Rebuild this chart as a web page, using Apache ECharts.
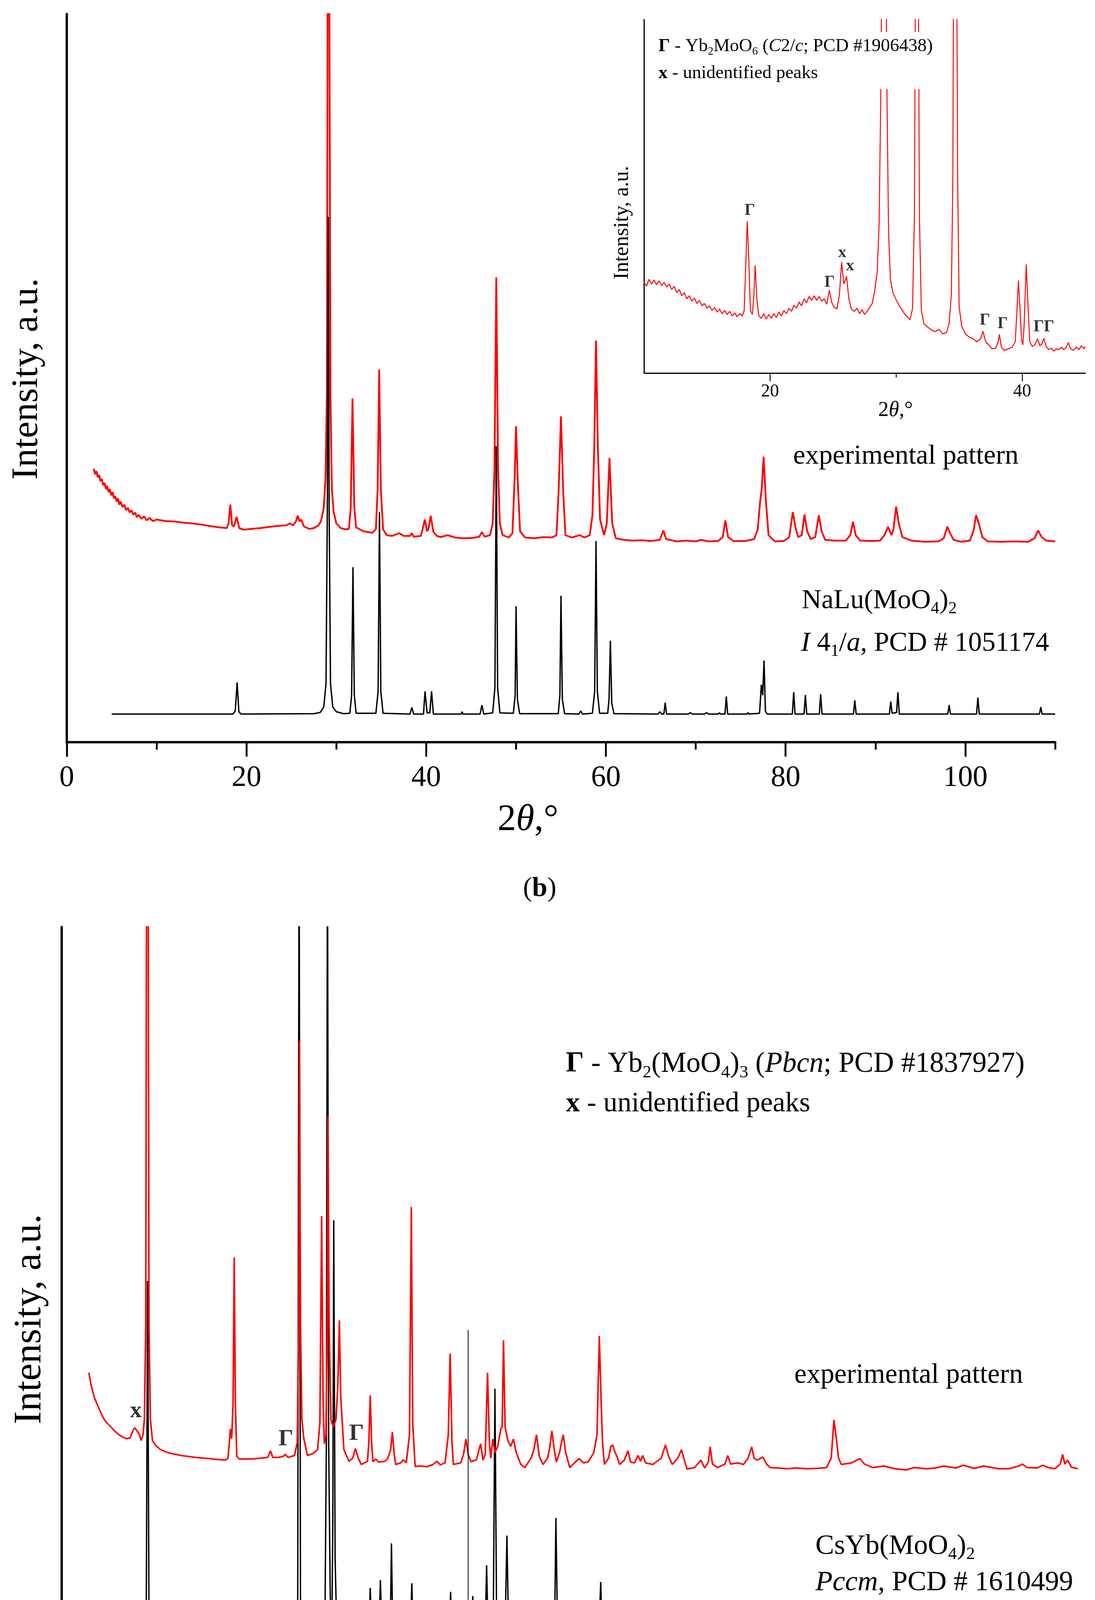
<!DOCTYPE html>
<html>
<head>
<meta charset="utf-8">
<script src="https://cdn.jsdelivr.net/npm/echarts@6.0.0/dist/echarts.min.js"></script>
<style>
  html, body { margin: 0; padding: 0; background: #fff; }
  #chart { width: 2804px; height: 4680px; }
</style>
</head>
<body>
<div id="chart"></div>
<script>
// ---- data: [2theta, intensity a.u.] ----
// panel (b): experimental pattern
var expB = [[3.0,700],[3.15,686],[3.3,694],[3.45,678],[3.6,684],[3.75,668],[3.9,674],[4.05,658],[4.2,664],[4.35,648],[4.5,656],[4.65,640],[4.8,648],[4.95,632],[5.1,640],[5.25,624],[5.4,630],[5.55,616],[5.7,624],[5.85,608],[6.0,616],[6.2,602],[6.4,608],[6.6,594],[6.8,600],[7.0,588],[7.2,594],[7.4,582],[7.6,588],[7.8,576],[8.0,582],[8.3,572],[8.6,578],[8.9,568],[9.2,574],[9.6,566],[10,570],[11,566],[12,565],[13,562],[14,560],[15,557],[16,553],[17,550],[17.8,548],[18.0,560],[18.2,608],[18.4,556],[18.6,552],[18.9,577],[19.2,548],[19.7,544],[20.5,546],[21.5,548],[22.5,551],[23.6,554],[24.4,555],[24.8,560],[25.2,555],[25.5,565],[25.7,580],[25.9,565],[26.1,570],[26.4,552],[27.0,546],[27.5,548],[28.0,555],[28.3,566],[28.6,600],[28.8,680],[28.95,900],[29.05,2100],[29.2,2100],[29.35,880],[29.5,650],[29.7,590],[30.0,560],[30.5,548],[31.0,545],[31.4,546],[31.6,600],[31.8,880],[32.0,600],[32.2,550],[33.0,540],[34.0,536],[34.4,545],[34.6,650],[34.77,954],[34.95,650],[35.2,545],[35.6,530],[36.2,528],[37.0,535],[37.5,528],[38.2,528],[38.4,535],[38.6,526],[39.4,528],[39.6,545],[39.85,570],[40.1,540],[40.25,545],[40.5,580],[40.8,538],[41.2,528],[41.6,525],[42.4,530],[43.2,524],[44.2,522],[45.2,523],[45.9,526],[46.2,538],[46.5,526],[47.1,530],[47.4,560],[47.6,700],[47.8,1190],[48.0,700],[48.2,560],[48.5,530],[49.2,524],[49.6,535],[49.85,680],[50.0,809],[50.2,660],[50.45,540],[51,524],[52,522],[53,525],[54,524],[54.5,530],[54.75,650],[55.0,834],[55.25,640],[55.5,530],[56.2,524],[57.1,530],[57.6,524],[58.2,530],[58.5,580],[58.7,750],[58.9,1028],[59.1,760],[59.35,570],[59.8,530],[60.1,560],[60.4,728],[60.7,560],[61.1,522],[62,518],[63,516],[64,517],[65,515],[66,518],[66.4,542],[66.7,520],[67.9,514],[69,516],[70,514],[70.6,518],[71.4,514],[72.5,515],[73.0,525],[73.3,568],[73.6,525],[74.2,515],[75.5,515],[76.5,520],[76.9,545],[77.15,613],[77.35,650],[77.55,731],[77.8,620],[78.1,530],[78.8,514],[79.8,515],[80.4,525],[80.8,589],[81.1,550],[81.4,525],[81.8,530],[82.1,583],[82.4,540],[82.8,520],[83.3,525],[83.7,581],[84.0,540],[84.4,518],[85.5,516],[86.7,516],[87.2,530],[87.5,564],[87.8,530],[88.3,516],[89.5,515],[90.5,516],[91.0,530],[91.4,551],[91.8,530],[92.0,545],[92.3,603],[92.6,560],[93.0,525],[94,516],[95.5,513],[97,514],[97.6,522],[98.0,552],[98.3,535],[98.7,518],[99.5,513],[100.5,516],[100.9,540],[101.2,581],[101.5,560],[101.9,525],[102.5,514],[104,513],[105.5,514],[107,513],[107.7,522],[108.1,542],[108.5,525],[109,516],[110,514]];

// panel (b): NaLu(MoO4)2 reference pattern
var refB = [[5.0,72],[18.5,72],[18.75,80],[18.96,153],[19.15,78],[19.4,72],[27.5,73],[28.2,76],[28.6,90],[28.85,150],[29.0,600],[29.1,1345],[29.2,600],[29.35,150],[29.6,90],[30.0,78],[30.8,73],[31.5,74],[31.7,120],[31.85,448],[32.0,120],[32.2,74],[34.4,74],[34.65,130],[34.8,589],[34.95,130],[35.2,74],[38.2,72],[38.4,89],[38.6,72],[39.7,72],[39.87,130],[40.1,75],[40.4,75],[40.6,130],[40.8,72],[43.9,72],[44.0,78],[44.1,72],[46.0,72],[46.2,95],[46.4,72],[47.4,75],[47.65,140],[47.8,758],[47.95,140],[48.2,75],[49.7,74],[49.9,120],[50.0,348],[50.15,110],[50.4,73],[54.7,73],[54.88,120],[55.0,375],[55.15,110],[55.4,73],[57.0,72],[57.2,80],[57.4,72],[58.5,74],[58.75,130],[58.9,515],[59.05,130],[59.3,74],[60.2,74],[60.35,110],[60.5,260],[60.65,100],[60.9,73],[65.8,72],[66.0,78],[66.2,72],[66.45,72],[66.6,101],[66.75,72],[69.2,72],[69.4,76],[69.6,72],[71.0,72],[71.2,76],[71.4,72],[72.5,72],[72.6,75],[72.8,72],[73.25,72],[73.4,117],[73.55,72],[75.7,72],[75.8,76],[75.9,72],[77.1,74],[77.3,147],[77.45,120],[77.6,209],[77.75,80],[77.95,72],[80.75,72],[80.9,128],[81.05,72],[82.05,72],[82.2,121],[82.35,72],[83.75,72],[83.9,123],[84.05,72],[87.55,72],[87.7,107],[87.85,72],[91.55,72],[91.7,104],[91.85,74],[92.35,76],[92.5,128],[92.65,72],[98.05,72],[98.2,95],[98.35,72],[101.25,72],[101.4,114],[101.55,72],[108.25,72],[108.4,90],[108.55,72],[110,72]];

// panel (b) inset: experimental pattern, 10-45 deg
var expInset = [[10.0,234],[10.2,222],[10.4,240],[10.6,228],[10.8,238],[11.0,226],[11.2,236],[11.4,224],[11.6,232],[11.8,220],[12.0,228],[12.2,214],[12.4,222],[12.6,206],[12.8,214],[13.0,198],[13.2,206],[13.4,190],[13.6,198],[13.8,184],[14.0,192],[14.2,178],[14.4,186],[14.6,172],[14.8,178],[15.0,166],[15.2,172],[15.4,160],[15.6,168],[15.8,156],[16.0,164],[16.2,152],[16.4,160],[16.6,150],[16.8,158],[17.0,146],[17.2,154],[17.4,144],[17.6,152],[17.8,146],[17.95,160],[18.1,300],[18.19,389],[18.3,300],[18.45,160],[18.6,150],[18.72,200],[18.82,276],[18.95,190],[19.1,148],[19.3,140],[19.5,152],[19.7,138],[19.9,150],[20.1,140],[20.3,152],[20.5,142],[20.7,156],[20.9,146],[21.1,160],[21.3,152],[21.5,166],[21.7,158],[21.9,174],[22.1,166],[22.3,182],[22.5,172],[22.7,190],[22.9,180],[23.1,196],[23.3,186],[23.5,198],[23.7,186],[23.9,196],[24.1,184],[24.3,190],[24.5,176],[24.7,212],[24.9,180],[25.1,168],[25.3,164],[25.5,200],[25.68,284],[25.85,228],[26.0,240],[26.07,248],[26.25,190],[26.45,164],[26.7,158],[26.9,166],[27.1,152],[27.3,162],[27.5,150],[27.7,158],[27.9,168],[28.1,178],[28.3,210],[28.5,260],[28.65,380],[28.78,700],[28.88,1100],[29.18,1100],[29.28,700],[29.4,360],[29.55,240],[29.75,205],[30.0,188],[30.25,172],[30.5,160],[30.7,150],[30.9,144],[31.1,136],[31.3,165],[31.45,400],[31.55,1100],[31.75,1100],[31.85,400],[32.0,160],[32.2,126],[32.5,118],[32.8,110],[33.1,106],[33.4,112],[33.7,100],[34.0,104],[34.2,126],[34.38,200],[34.5,500],[34.56,1100],[34.8,1100],[34.88,500],[35.0,170],[35.2,120],[35.5,100],[35.8,92],[36.1,88],[36.4,80],[36.7,88],[36.89,107],[37.1,80],[37.35,72],[37.6,62],[37.9,64],[38.1,80],[38.19,99],[38.35,66],[38.6,58],[38.9,62],[39.2,66],[39.45,80],[39.6,170],[39.7,237],[39.82,170],[39.95,85],[40.05,72],[40.15,120],[40.32,278],[40.45,180],[40.6,80],[40.8,68],[41.0,72],[41.21,88],[41.4,70],[41.55,74],[41.72,89],[41.9,68],[42.1,60],[42.3,64],[42.5,56],[42.7,62],[42.9,60],[43.1,66],[43.3,60],[43.5,66],[43.66,78],[43.85,62],[44.05,58],[44.3,66],[44.5,60],[44.7,70],[44.9,62],[45.0,68]];

// panel (c): experimental pattern
var expC = [[2.94,779],[3.2,745],[3.5,718],[3.8,700],[4.1,684],[4.4,668],[4.7,656],[5.0,648],[5.4,638],[5.8,628],[6.2,620],[6.6,614],[7.0,610],[7.4,612],[7.7,630],[7.9,638],[8.15,630],[8.4,622],[8.6,605],[8.8,620],[8.95,660],[9.1,900],[9.2,2200],[9.35,2200],[9.45,900],[9.6,660],[9.83,605],[10.2,592],[10.7,582],[11.5,574],[12.9,567],[14.5,562],[16.0,559],[17.2,556],[17.7,555],[18.0,560],[18.15,600],[18.26,635],[18.4,610],[18.55,700],[18.68,1074],[18.8,700],[18.95,565],[19.2,558],[20.5,558],[21.5,560],[22.3,562],[22.6,579],[22.85,562],[23.5,562],[24.0,565],[24.2,570],[24.5,562],[25.2,567],[25.5,600],[25.65,900],[25.75,1629],[25.85,900],[26.0,660],[26.2,612],[26.6,567],[27.2,572],[27.7,582],[27.95,650],[28.14,1180],[28.3,700],[28.43,597],[28.6,620],[28.75,900],[28.83,1436],[28.95,900],[29.15,658],[29.4,640],[29.7,660],[29.9,750],[30.06,913],[30.2,720],[30.55,582],[31.1,552],[31.5,560],[31.8,585],[32.1,560],[32.43,544],[33.1,552],[33.25,600],[33.4,721],[33.55,600],[33.7,551],[34.0,558],[34.3,550],[35.0,552],[35.3,560],[35.6,580],[35.8,627],[36.0,570],[36.15,544],[36.7,548],[37.0,556],[37.3,548],[37.65,620],[37.85,1203],[38.0,650],[38.26,539],[38.9,540],[39.5,538],[40.2,544],[40.6,552],[41.0,543],[41.5,548],[41.85,620],[42.05,828],[42.25,600],[42.4,544],[43.2,548],[43.5,570],[43.76,609],[44.0,570],[44.3,551],[44.9,556],[45.1,575],[45.35,597],[45.6,555],[45.85,570],[46.1,779],[46.3,600],[46.45,560],[46.67,609],[46.9,574],[47.2,590],[47.54,635],[47.68,640],[47.83,862],[48.0,640],[48.3,605],[48.6,590],[48.9,609],[49.2,575],[49.7,544],[50.14,536],[50.8,560],[51.1,580],[51.4,620],[51.7,565],[52.1,544],[52.6,560],[52.85,590],[53.06,630],[53.3,585],[53.56,550],[53.9,575],[54.1,600],[54.3,620],[54.55,575],[55.0,536],[55.6,550],[56.0,559],[56.5,548],[57.0,551],[57.6,574],[57.95,620],[58.2,873],[58.4,703],[58.55,600],[58.75,544],[59.2,560],[59.45,590],[59.65,594],[59.9,575],[60.1,565],[60.4,544],[60.9,555],[61.3,579],[61.6,550],[62.0,548],[62.4,567],[62.65,552],[62.9,567],[63.2,548],[64.0,544],[64.9,560],[65.36,594],[65.7,565],[66.1,544],[66.7,560],[67.1,582],[67.4,555],[67.7,532],[68.5,536],[69.2,555],[69.6,535],[70.0,550],[70.2,589],[70.45,545],[71.0,536],[71.8,545],[72.1,567],[72.4,545],[73.2,548],[73.8,544],[74.3,560],[74.7,589],[74.95,560],[75.3,555],[75.9,563],[76.3,545],[76.7,536],[77.5,535],[78.5,533],[79.5,535],[80.7,533],[81.8,534],[82.8,536],[83.3,560],[83.6,658],[83.85,612],[84.1,560],[84.4,544],[85.5,548],[86.4,559],[86.9,545],[87.8,536],[89.0,540],[90.2,533],[91.4,530],[92.3,536],[93.6,533],[94.6,535],[95.5,540],[96.8,535],[97.6,542],[98.8,534],[99.8,540],[100.3,538],[101.4,533],[102.5,533],[103.6,540],[104.0,545],[104.5,536],[105.6,535],[106.2,542],[106.8,536],[107.5,533],[108.1,545],[108.35,570],[108.6,545],[108.9,555],[109.3,537],[110.0,533]];

// panel (c): CsYb(MoO4)2 reference pattern
var refC = [[4.95,77],[9.0,77],[9.15,150],[9.3,1014],[9.45,150],[9.7,78],[17.4,77],[17.6,142],[17.8,77],[18.45,77],[18.65,195],[18.85,77],[22.35,77],[22.5,111],[22.65,77],[22.85,77],[22.95,88],[23.1,77],[25.3,80],[25.55,200],[25.7,2200],[25.85,200],[26.1,80],[27.9,78],[28.1,175],[28.3,110],[28.5,150],[28.65,600],[28.77,2200],[28.9,600],[29.1,150],[29.25,130],[29.35,400],[29.45,1169],[29.6,300],[29.8,100],[30.1,80],[30.3,175],[30.5,78],[33.2,77],[33.4,228],[33.6,77],[34.3,77],[34.5,248],[34.7,77],[35.1,77],[35.25,100],[35.4,80],[35.55,100],[35.7,342],[35.85,90],[36.1,77],[36.3,139],[36.5,77],[36.8,77],[36.95,88],[37.1,77],[37.7,77],[37.9,240],[38.1,77],[39.8,77],[40.0,104],[40.15,77],[40.4,80],[40.6,152],[40.8,77],[41.9,77],[42.1,218],[42.3,77],[42.6,77],[42.75,104],[42.9,77],[43.6,77],[43.8,100],[44.0,77],[44.3,77],[44.5,207],[44.7,77],[45.8,77],[46.0,286],[46.2,77],[46.7,80],[46.9,738],[47.1,90],[47.4,77],[47.55,130],[47.7,100],[47.85,139],[48.0,120],[48.2,362],[48.4,80],[49.6,77],[49.8,100],[49.95,77],[50.2,77],[50.4,111],[50.6,77],[51.2,77],[51.4,105],[51.55,80],[51.75,80],[51.9,177],[52.1,77],[52.8,77],[53.0,185],[53.2,90],[53.35,100],[53.5,407],[53.7,80],[54.6,77],[54.75,90],[54.9,77],[56.6,77],[56.8,149],[57.0,77],[58.05,77],[58.15,110],[58.35,243],[58.55,78],[59.4,78],[59.56,192],[59.7,120],[59.9,180],[60.1,78],[60.9,78],[61.1,139],[61.3,90],[61.4,80],[62.4,77],[62.6,95],[62.8,77],[63.1,77],[63.3,108],[63.5,77],[63.9,77],[64.1,123],[64.3,77],[66.0,77],[66.2,152],[66.4,78],[66.8,77],[66.95,88],[67.1,77],[67.4,77],[67.5,85],[67.7,77],[68.8,77],[69.0,88],[69.2,77],[70.0,77],[70.2,104],[70.4,77],[71.4,77],[71.55,85],[71.7,77],[72.2,77],[72.35,88],[72.5,77],[72.65,77],[72.8,130],[72.95,90],[73.1,130],[73.3,77],[74.0,77],[74.1,85],[74.2,77],[74.45,77],[74.6,119],[74.75,85],[74.9,115],[75.1,77],[75.5,77],[75.7,100],[75.9,77],[77.1,77],[77.3,139],[77.5,77],[79.6,77],[79.8,100],[79.95,85],[80.1,100],[80.3,77],[81.0,77],[81.15,88],[81.3,77],[82.8,77],[83.0,111],[83.2,77],[83.45,77],[83.6,95],[83.75,77],[84.6,77],[84.75,88],[84.9,77],[85.3,77],[85.45,92],[85.6,77],[85.75,77],[85.9,104],[86.05,77],[86.65,77],[86.8,100],[86.95,77],[87.9,77],[88.05,95],[88.2,85],[88.35,95],[88.5,77],[89.5,77],[89.65,85],[89.8,77],[91.7,77],[91.85,85],[92.0,77],[93.05,77],[93.2,94],[93.35,77],[94.6,77],[94.75,85],[94.9,77],[96.0,77],[96.2,100],[96.4,80],[96.6,77],[101.1,77],[101.3,95],[101.5,77],[101.9,77],[102.1,88],[102.3,77],[102.9,77],[103.1,88],[103.3,77],[104.4,77],[104.6,88],[104.8,77],[105.3,77],[105.5,90],[105.7,77],[107.0,77],[107.2,85],[107.4,77],[108.2,77],[108.4,95],[108.6,77],[110,77]];

// thin vertical line in panel (c)
var markC = [[44.0,48],[44.0,888]];

// phase markers: [2theta, intensity, label]
var markersInset = [[18.4,416,'Γ'],[24.72,232,'Γ'],[25.73,308,'x'],[26.35,274,'x'],[37.04,135,'Γ'],[38.45,126,'Γ'],[41.72,118,'ΓΓ']];
var markersC = [[8.03,681,'x'],[24.27,609,'Γ'],[31.92,623,'Γ']];

// tick values
var mainMajor = [0, 20, 40, 60, 80, 100];
var mainMinor = [10, 30, 50, 70, 90, 110];
var insetMajor = [20, 40];
var insetMinor = [30];

var FONT = 'Liberation Serif';
var RED = '#ff0000';

var chart = echarts.init(document.getElementById('chart'), null, { renderer: 'canvas' });

function majorAxis(grid, min, max, interval, ticks, fs, margin, tickLen, lineW) {
  return {
    type: 'value', gridIndex: grid, min: min, max: max, interval: interval, position: 'bottom',
    axisLine: { show: true, onZero: false, lineStyle: { color: '#000', width: lineW } },
    axisTick: { show: true, customValues: ticks, length: tickLen, lineStyle: { color: '#000', width: lineW * 0.8 } },
    axisLabel: { show: true, customValues: ticks, margin: margin, fontFamily: FONT, fontSize: fs, color: '#000' },
    splitLine: { show: false }
  };
}
function minorAxis(grid, min, max, interval, ticks, tickLen, lineW) {
  return {
    type: 'value', gridIndex: grid, min: min, max: max, interval: interval, position: 'bottom',
    axisLine: { show: false, onZero: false },
    axisTick: { show: true, customValues: ticks, length: tickLen, lineStyle: { color: '#000', width: lineW * 0.8 } },
    axisLabel: { show: false },
    splitLine: { show: false }
  };
}
function yAxisFor(grid, max, lineW) {
  return {
    type: 'value', gridIndex: grid, min: 0, max: max,
    axisLine: { show: true, onZero: false, lineStyle: { color: '#000', width: lineW } },
    axisTick: { show: false }, axisLabel: { show: false }, splitLine: { show: false }
  };
}
function lineSeries(x, y, data, color, width, z) {
  return {
    type: 'line', xAxisIndex: x, yAxisIndex: y, data: data, showSymbol: false, symbol: 'none',
    clip: true, z: z, lineStyle: { color: color, width: width }, animation: false
  };
}
function markerSeries(x, y, list, fs) {
  return {
    type: 'scatter', xAxisIndex: x, yAxisIndex: y, symbolSize: 1, z: 10,
    itemStyle: { color: 'rgba(0,0,0,0)' },
    data: list.map(function (m) { return { value: [m[0], m[1]], name: m[2] }; }),
    label: { show: true, position: 'inside', formatter: function (p) { return p.name; },
      fontFamily: FONT, fontWeight: 'bold', fontSize: fs, color: '#000' },
    animation: false
  };
}

function richFor(fs) {
  var base = { fontFamily: FONT, fontSize: fs, lineHeight: fs * 1.2, fill: '#000' };
  return {
    n: base,
    i: Object.assign({}, base, { fontStyle: 'italic' }),
    b: Object.assign({}, base, { fontWeight: 'bold' }),
    s: { fontFamily: FONT, fontSize: fs * 0.62, verticalAlign: 'bottom', fill: '#000' }
  };
}
// text placed by its left edge and baseline
function txt(left, baseline, fs, str) {
  return { type: 'text', x: left, y: baseline - 0.92 * fs, z: 20,
    style: { text: str, rich: richFor(fs), align: 'left', verticalAlign: 'top' } };
}
// text placed by its centre
function ctxt(cx, cy, fs, str, rot) {
  return { type: 'text', x: cx, y: cy, rotation: rot || 0, z: 20,
    style: { text: str, rich: richFor(fs), align: 'center', verticalAlign: 'middle' } };
}

var option = {
  backgroundColor: '#fff',
  animation: false,
  grid: [
    { left: 171, right: 102, top: 36, bottom: 2780 },
    { left: 1649, right: 25, top: 50, bottom: 3725 },
    { left: 158, right: 44, top: 2373, bottom: 387 }
  ],
  xAxis: [
    majorAxis(0, 0, 110, 20, mainMajor, 76, 54, 37, 6),
    minorAxis(0, 0, 110, 10, mainMinor, 19, 6),
    majorAxis(1, 10, 45, 10, insetMajor, 46, 25, 21, 3),
    minorAxis(1, 10, 45, 10, insetMinor, 11, 3),
    majorAxis(2, 0, 110, 20, mainMajor, 78, 55, 38, 6),
    minorAxis(2, 0, 110, 10, mainMinor, 21, 6)
  ],
  yAxis: [
    yAxisFor(0, 1864, 6),
    yAxisFor(1, 905, 3),
    yAxisFor(2, 1920, 6)
  ],
  series: [
    lineSeries(0, 0, expB, RED, 4.5, 2),
    lineSeries(0, 0, refB, '#000', 3.5, 3),
    lineSeries(2, 1, expInset, RED, 2.5, 2),
    markerSeries(2, 1, markersInset, 42),
    lineSeries(4, 2, refC, '#000', 3.5, 2),
    lineSeries(4, 2, expC, RED, 4, 3),
    lineSeries(4, 2, markC, '#000', 2, 4),
    markerSeries(4, 2, markersC, 60)
  ],
  graphic: [
    // panel (b)
    ctxt(70, 970, 96, '{n|Intensity, a.u.}', Math.PI / 2),
    ctxt(1352, 2100, 95, '{n|2}{i|θ}{n|,°}'),
    ctxt(1382, 2276, 70, '{n|(}{b|b}{n|)}'),
    txt(2031, 1191, 70, '{n|experimental pattern}'),
    txt(2053, 1561, 70, '{n|NaLu(MoO}{s|4}{n|)}{s|2}'),
    txt(2051, 1670, 70, '{i|I}{n| 4}{s|1}{n|/}{i|a}{n|, PCD # 1051174}'),
    // inset: legend sits on a white patch that hides the peaks behind it
    { type: 'rect', z: 15, shape: { x: 1665, y: 82, width: 745, height: 146 }, style: { fill: '#fff' } },
    txt(1686, 134, 47, '{b|Γ}{n| - Yb}{s|2}{n|MoO}{s|6}{n| (}{i|C}{n|2/}{i|c}{n|; PCD #1906438)}'),
    txt(1686, 203, 47, '{b|x}{n| - unidentified peaks}'),
    ctxt(1594, 570, 54, '{n|Intensity, a.u.}', Math.PI / 2),
    ctxt(2293, 1051, 54, '{n|2}{i|θ}{n|,°}'),
    // panel (c)
    ctxt(77, 3377, 100, '{n|Intensity, a.u.}', Math.PI / 2),
    ctxt(1392, 4455, 95, '{n|2}{i|θ}{n|,°}'),
    ctxt(1382, 4619, 72, '{n|(}{b|c}{n|)}'),
    txt(1449, 2748, 73, '{b|Γ}{n| - Yb}{s|2}{n|(MoO}{s|4}{n|)}{s|3}{n| (}{i|Pbcn}{n|; PCD #1837927)}'),
    txt(1449, 2849, 72, '{b|x}{n| - unidentified peaks}'),
    txt(2034, 3544, 71, '{n|experimental pattern}'),
    txt(2088, 3982, 72, '{n|CsYb(MoO}{s|4}{n|)}{s|2}'),
    txt(2088, 4075, 72, '{i|Pccm}{n|, PCD # 1610499}')
  ]
};

chart.setOption(option);
window.addEventListener('resize', function () {
  chart.resize();
});
</script>
</body>
</html>
